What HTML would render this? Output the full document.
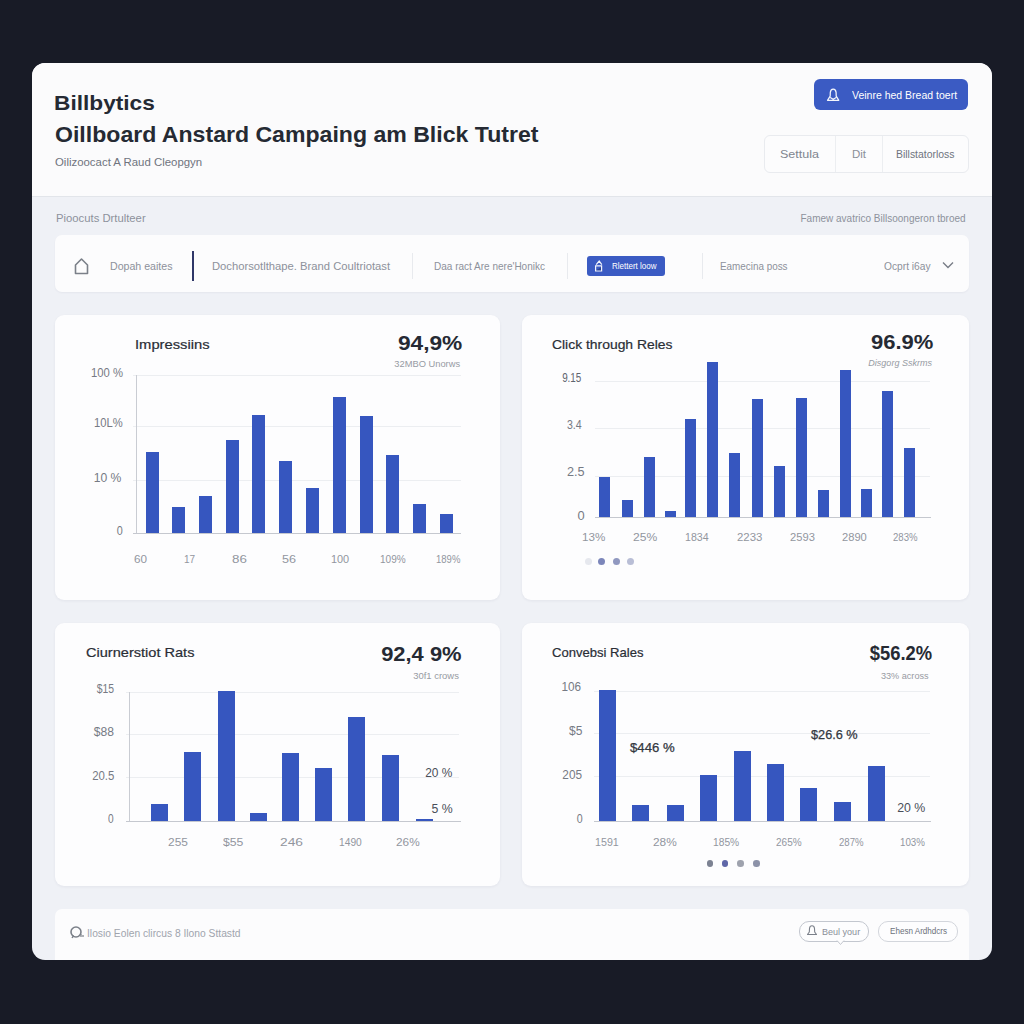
<!DOCTYPE html>
<html><head><meta charset="utf-8"><style>
html,body{margin:0;padding:0;width:1024px;height:1024px;overflow:hidden;background:#181b26;font-family:"Liberation Sans", sans-serif;}
</style></head><body>
<div style="position:absolute;left:32px;top:63px;width:960px;height:897px;background:#eff1f6;border-radius:13px;overflow:hidden"></div>
<div style="position:absolute;left:32px;top:63px;width:960px;height:133px;background:#fbfbfc;border-radius:13px 13px 0 0;border-bottom:1px solid #e2e5ea"></div>
<div style="position:absolute;left:814px;top:79px;width:154px;height:31px;background:#3b5bc3;border-radius:6px;"></div>
<svg style="position:absolute;left:826px;top:88px" width="14" height="14" viewBox="0 0 14 14"><path d="M1.5 12.3 L4.2 8.2 L4.3 4.5 Q4.6 1.2 7.2 1.2 Q9.8 1.2 10.1 4.5 L10.2 8.2 L12.8 12.3 Z M4.2 9.5 L7.2 11.3 L10.2 9.5" fill="none" stroke="#f4f6fc" stroke-width="1.25" stroke-linejoin="round"/></svg>
<div style="position:absolute;left:764px;top:135px;width:203px;height:36px;border:1px solid #e9ebef;border-radius:6px;background:#fcfcfd"></div>
<div style="position:absolute;left:835px;top:136px;width:1px;height:36px;background:#eceef1;border-radius:0px;"></div>
<div style="position:absolute;left:882px;top:136px;width:1px;height:36px;background:#eceef1;border-radius:0px;"></div>
<div style="position:absolute;left:55px;top:235px;width:914px;height:57px;background:#fcfcfd;border-radius:7px;box-shadow:0 1px 2px rgba(30,40,70,0.05)"></div>
<svg style="position:absolute;left:73px;top:257px" width="17" height="18" viewBox="0 0 17 18"><path d="M2.5 16.5 V8 L8.5 2 L14.5 8 V16.5 Z" fill="none" stroke="#7b8089" stroke-width="1.6" stroke-linejoin="round"/></svg>
<div style="position:absolute;left:192px;top:251px;width:2px;height:30px;background:#2f3768;border-radius:0px;"></div>
<div style="position:absolute;left:412px;top:253px;width:1px;height:26px;background:#e8eaee;border-radius:0px;"></div>
<div style="position:absolute;left:567px;top:253px;width:1px;height:26px;background:#e8eaee;border-radius:0px;"></div>
<div style="position:absolute;left:587px;top:256px;width:78px;height:20px;background:#3b5bc3;border-radius:3px;"></div>
<svg style="position:absolute;left:594px;top:259px" width="10" height="13" viewBox="0 0 10 13"><path d="M1.6 12 V6.8 H7.6 V12 Z M2.2 5.6 L5.2 2 L7.8 5.6" fill="none" stroke="#f2f4fb" stroke-width="1.2"/><path d="M2.4 11.2 L7 8.2 V11.2 Z" fill="#26336f" opacity="0.6"/></svg>
<div style="position:absolute;left:702px;top:253px;width:1px;height:26px;background:#e8eaee;border-radius:0px;"></div>
<svg style="position:absolute;left:941px;top:260px" width="14" height="10" viewBox="0 0 14 10"><path d="M2 2.5 L7 7.5 L12 2.5" fill="none" stroke="#777c86" stroke-width="1.35"/></svg>
<div style="position:absolute;left:55px;top:315px;width:445px;height:285px;background:#fdfdfe;border-radius:9px;box-shadow:0 1px 3px rgba(30,40,70,0.06)"></div>
<div style="position:absolute;left:522px;top:315px;width:447px;height:285px;background:#fdfdfe;border-radius:9px;box-shadow:0 1px 3px rgba(30,40,70,0.06)"></div>
<div style="position:absolute;left:55px;top:623px;width:445px;height:263px;background:#fdfdfe;border-radius:9px;box-shadow:0 1px 3px rgba(30,40,70,0.06)"></div>
<div style="position:absolute;left:522px;top:623px;width:447px;height:263px;background:#fdfdfe;border-radius:9px;box-shadow:0 1px 3px rgba(30,40,70,0.06)"></div>
<div style="position:absolute;left:133px;top:375px;width:328px;height:1px;background:#eceef1;border-radius:0px;"></div>
<div style="position:absolute;left:133px;top:426px;width:328px;height:1px;background:#eceef1;border-radius:0px;"></div>
<div style="position:absolute;left:133px;top:480px;width:328px;height:1px;background:#eceef1;border-radius:0px;"></div>
<div style="position:absolute;left:136px;top:375px;width:1px;height:159px;background:#c9ccd3;border-radius:0px;"></div>
<div style="position:absolute;left:133px;top:533px;width:328px;height:1px;background:#c5c8cf;border-radius:0px;"></div>
<div style="position:absolute;left:146px;top:452px;width:13px;height:81px;background:#3656bf;border-radius:0px;"></div>
<div style="position:absolute;left:172px;top:507px;width:13px;height:26px;background:#3656bf;border-radius:0px;"></div>
<div style="position:absolute;left:199px;top:496px;width:13px;height:37px;background:#3656bf;border-radius:0px;"></div>
<div style="position:absolute;left:226px;top:440px;width:13px;height:93px;background:#3656bf;border-radius:0px;"></div>
<div style="position:absolute;left:252px;top:415px;width:13px;height:118px;background:#3656bf;border-radius:0px;"></div>
<div style="position:absolute;left:279px;top:461px;width:13px;height:72px;background:#3656bf;border-radius:0px;"></div>
<div style="position:absolute;left:306px;top:488px;width:13px;height:45px;background:#3656bf;border-radius:0px;"></div>
<div style="position:absolute;left:333px;top:397px;width:13px;height:136px;background:#3656bf;border-radius:0px;"></div>
<div style="position:absolute;left:360px;top:416px;width:13px;height:117px;background:#3656bf;border-radius:0px;"></div>
<div style="position:absolute;left:386px;top:455px;width:13px;height:78px;background:#3656bf;border-radius:0px;"></div>
<div style="position:absolute;left:413px;top:504px;width:13px;height:29px;background:#3656bf;border-radius:0px;"></div>
<div style="position:absolute;left:440px;top:514px;width:13px;height:19px;background:#3656bf;border-radius:0px;"></div>
<div style="position:absolute;left:595px;top:381px;width:335px;height:1px;background:#eceef1;border-radius:0px;"></div>
<div style="position:absolute;left:595px;top:428px;width:335px;height:1px;background:#eceef1;border-radius:0px;"></div>
<div style="position:absolute;left:595px;top:476px;width:335px;height:1px;background:#eceef1;border-radius:0px;"></div>
<div style="position:absolute;left:595px;top:517px;width:336px;height:1px;background:#c5c8cf;border-radius:0px;"></div>
<div style="position:absolute;left:599px;top:477px;width:11px;height:40px;background:#3656bf;border-radius:0px;"></div>
<div style="position:absolute;left:622px;top:500px;width:11px;height:17px;background:#3656bf;border-radius:0px;"></div>
<div style="position:absolute;left:644px;top:457px;width:11px;height:60px;background:#3656bf;border-radius:0px;"></div>
<div style="position:absolute;left:665px;top:511px;width:11px;height:6px;background:#3656bf;border-radius:0px;"></div>
<div style="position:absolute;left:685px;top:419px;width:11px;height:98px;background:#3656bf;border-radius:0px;"></div>
<div style="position:absolute;left:707px;top:362px;width:11px;height:155px;background:#3656bf;border-radius:0px;"></div>
<div style="position:absolute;left:729px;top:453px;width:11px;height:64px;background:#3656bf;border-radius:0px;"></div>
<div style="position:absolute;left:752px;top:399px;width:11px;height:118px;background:#3656bf;border-radius:0px;"></div>
<div style="position:absolute;left:774px;top:466px;width:11px;height:51px;background:#3656bf;border-radius:0px;"></div>
<div style="position:absolute;left:796px;top:398px;width:11px;height:119px;background:#3656bf;border-radius:0px;"></div>
<div style="position:absolute;left:818px;top:490px;width:11px;height:27px;background:#3656bf;border-radius:0px;"></div>
<div style="position:absolute;left:840px;top:370px;width:11px;height:147px;background:#3656bf;border-radius:0px;"></div>
<div style="position:absolute;left:861px;top:489px;width:11px;height:28px;background:#3656bf;border-radius:0px;"></div>
<div style="position:absolute;left:882px;top:391px;width:11px;height:126px;background:#3656bf;border-radius:0px;"></div>
<div style="position:absolute;left:904px;top:448px;width:11px;height:69px;background:#3656bf;border-radius:0px;"></div>
<div style="position:absolute;left:584.7px;top:557.7px;width:7px;height:7px;border-radius:50%;background:#e6e8ee"></div>
<div style="position:absolute;left:598.2px;top:557.7px;width:7px;height:7px;border-radius:50%;background:#7c86ba"></div>
<div style="position:absolute;left:612.8px;top:557.7px;width:7px;height:7px;border-radius:50%;background:#9098c0"></div>
<div style="position:absolute;left:627.4px;top:557.7px;width:7px;height:7px;border-radius:50%;background:#b9bed6"></div>
<div style="position:absolute;left:126px;top:692px;width:333px;height:1px;background:#eceef1;border-radius:0px;"></div>
<div style="position:absolute;left:126px;top:734px;width:333px;height:1px;background:#eceef1;border-radius:0px;"></div>
<div style="position:absolute;left:126px;top:777px;width:333px;height:1px;background:#eceef1;border-radius:0px;"></div>
<div style="position:absolute;left:129px;top:692px;width:1px;height:130px;background:#c9ccd3;border-radius:0px;"></div>
<div style="position:absolute;left:126px;top:821px;width:335px;height:1px;background:#c5c8cf;border-radius:0px;"></div>
<div style="position:absolute;left:151px;top:804px;width:17px;height:17px;background:#3656bf;border-radius:0px;"></div>
<div style="position:absolute;left:184px;top:752px;width:17px;height:69px;background:#3656bf;border-radius:0px;"></div>
<div style="position:absolute;left:218px;top:691px;width:17px;height:130px;background:#3656bf;border-radius:0px;"></div>
<div style="position:absolute;left:250px;top:813px;width:17px;height:8px;background:#3656bf;border-radius:0px;"></div>
<div style="position:absolute;left:282px;top:753px;width:17px;height:68px;background:#3656bf;border-radius:0px;"></div>
<div style="position:absolute;left:315px;top:768px;width:17px;height:53px;background:#3656bf;border-radius:0px;"></div>
<div style="position:absolute;left:348px;top:717px;width:17px;height:104px;background:#3656bf;border-radius:0px;"></div>
<div style="position:absolute;left:382px;top:755px;width:17px;height:66px;background:#3656bf;border-radius:0px;"></div>
<div style="position:absolute;left:416px;top:819px;width:17px;height:2px;background:#3656bf;border-radius:0px;"></div>
<div style="position:absolute;left:594px;top:691px;width:336px;height:1px;background:#eceef1;border-radius:0px;"></div>
<div style="position:absolute;left:594px;top:733px;width:336px;height:1px;background:#eceef1;border-radius:0px;"></div>
<div style="position:absolute;left:594px;top:776px;width:336px;height:1px;background:#eceef1;border-radius:0px;"></div>
<div style="position:absolute;left:594px;top:821px;width:337px;height:1px;background:#c5c8cf;border-radius:0px;"></div>
<div style="position:absolute;left:599px;top:690px;width:17px;height:131px;background:#3656bf;border-radius:0px;"></div>
<div style="position:absolute;left:632px;top:805px;width:17px;height:16px;background:#3656bf;border-radius:0px;"></div>
<div style="position:absolute;left:667px;top:805px;width:17px;height:16px;background:#3656bf;border-radius:0px;"></div>
<div style="position:absolute;left:700px;top:775px;width:17px;height:46px;background:#3656bf;border-radius:0px;"></div>
<div style="position:absolute;left:734px;top:751px;width:17px;height:70px;background:#3656bf;border-radius:0px;"></div>
<div style="position:absolute;left:767px;top:764px;width:17px;height:57px;background:#3656bf;border-radius:0px;"></div>
<div style="position:absolute;left:800px;top:788px;width:17px;height:33px;background:#3656bf;border-radius:0px;"></div>
<div style="position:absolute;left:834px;top:802px;width:17px;height:19px;background:#3656bf;border-radius:0px;"></div>
<div style="position:absolute;left:868px;top:766px;width:17px;height:55px;background:#3656bf;border-radius:0px;"></div>
<div style="position:absolute;left:706.9000000000001px;top:860.3000000000001px;width:6.6px;height:6.6px;border-radius:50%;background:#7c8292"></div>
<div style="position:absolute;left:721.9000000000001px;top:860.3000000000001px;width:6.6px;height:6.6px;border-radius:50%;background:#5f67a8"></div>
<div style="position:absolute;left:737.1px;top:860.3000000000001px;width:6.6px;height:6.6px;border-radius:50%;background:#9ea2ad"></div>
<div style="position:absolute;left:752.95px;top:860.3000000000001px;width:6.6px;height:6.6px;border-radius:50%;background:#8c92a8"></div>
<div style="position:absolute;left:55px;top:909px;width:914px;height:51px;background:#fcfcfd;border-radius:7px 7px 0 0"></div>
<svg style="position:absolute;left:69px;top:925px" width="17" height="16" viewBox="0 0 17 16"><circle cx="7" cy="7" r="5" fill="none" stroke="#7b8089" stroke-width="1.6"/><path d="M3 13 Q4 11 5 11" fill="none" stroke="#7b8089" stroke-width="1.3"/><path d="M12 9 V12 M14 10 V12" stroke="#7b8089" stroke-width="1.2"/></svg>
<div style="position:absolute;left:799px;top:921px;width:68px;height:19px;border:1px solid #c3c7cf;border-radius:10px;background:#fdfdfe"></div>
<svg style="position:absolute;left:806px;top:924px" width="12" height="13" viewBox="0 0 12 13"><path d="M1.5 10.5 L3.3 8 L3.5 4.5 Q3.8 1.8 6 1.8 Q8.2 1.8 8.5 4.5 L8.7 8 L10.5 10.5 Z" fill="none" stroke="#7b808a" stroke-width="1.1" stroke-linejoin="round"/></svg>
<svg style="position:absolute;left:836px;top:940px" width="9" height="6" viewBox="0 0 9 6"><path d="M1 0.5 L4.5 4.5 L8 0.5" fill="#fdfdfe" stroke="#c3c6ce" stroke-width="1"/></svg>
<div style="position:absolute;left:878px;top:921px;width:78px;height:19px;border:1px solid #d3d6dc;border-radius:10px;background:#fdfdfe"></div>
<span style="position:absolute;left:53.92px;transform-origin:0 50%;top:92.22px;font-size:21px;line-height:21px;font-weight:700;color:#252a33;white-space:nowrap;transform:scaleX(1.0798);">Billbytics</span>
<span style="position:absolute;left:55.00px;transform-origin:0 50%;top:124.38px;font-size:22px;line-height:22px;font-weight:700;color:#252a33;white-space:nowrap;transform:scaleX(1.0490);">Oillboard Anstard Campaing am Blick Tutret</span>
<span style="position:absolute;left:55.00px;transform-origin:0 50%;top:157.27px;font-size:11.5px;line-height:11.5px;font-weight:400;color:#6f747e;white-space:nowrap;transform:scaleX(0.9921);">Oilizoocact A Raud Cleopgyn</span>
<span style="position:absolute;left:852.00px;transform-origin:0 50%;top:89.69px;font-size:11px;line-height:11px;font-weight:400;color:#ffffff;white-space:nowrap;transform:scaleX(0.9544);">Veinre hed Bread toert</span>
<span style="position:absolute;left:780.00px;transform-origin:0 50%;top:148.69px;font-size:11px;line-height:11px;font-weight:400;color:#80858f;white-space:nowrap;transform:scaleX(1.1387);">Settula</span>
<span style="position:absolute;left:852.00px;transform-origin:0 50%;top:148.69px;font-size:11px;line-height:11px;font-weight:400;color:#8a8f98;white-space:nowrap;transform:scaleX(1.0457);">Dit</span>
<span style="position:absolute;left:896.00px;transform-origin:0 50%;top:148.69px;font-size:11px;line-height:11px;font-weight:400;color:#6f747e;white-space:nowrap;transform:scaleX(0.9479);">Billstatorloss</span>
<span style="position:absolute;left:56.00px;transform-origin:0 50%;top:212.69px;font-size:11px;line-height:11px;font-weight:400;color:#8d929c;white-space:nowrap;transform:scaleX(1.0255);">Pioocuts Drtulteer</span>
<span style="position:absolute;right:58.89px;transform-origin:100% 50%;top:212.69px;font-size:11px;line-height:11px;font-weight:400;color:#8d929c;white-space:nowrap;transform:scaleX(0.9092);">Famew avatrico Billsoongeron tbroed</span>
<span style="position:absolute;left:110.00px;transform-origin:0 50%;top:260.69px;font-size:11px;line-height:11px;font-weight:400;color:#8d919b;white-space:nowrap;transform:scaleX(0.9644);">Dopah eaites</span>
<span style="position:absolute;left:212.00px;transform-origin:0 50%;top:260.69px;font-size:11px;line-height:11px;font-weight:400;color:#8d919b;white-space:nowrap;transform:scaleX(1.0218);">Dochorsotlthape. Brand Coultriotast</span>
<span style="position:absolute;left:434.00px;transform-origin:0 50%;top:260.69px;font-size:11px;line-height:11px;font-weight:400;color:#8d919b;white-space:nowrap;transform:scaleX(0.9103);">Daa ract Are nere'Honikc</span>
<span style="position:absolute;left:612.00px;transform-origin:0 50%;top:261.88px;font-size:9px;line-height:9px;font-weight:400;color:#ffffff;white-space:nowrap;transform:scaleX(0.8908);">Rlettert loow</span>
<span style="position:absolute;left:720.00px;transform-origin:0 50%;top:260.69px;font-size:11px;line-height:11px;font-weight:400;color:#8d919b;white-space:nowrap;transform:scaleX(0.8982);">Eamecina poss</span>
<span style="position:absolute;left:884.00px;transform-origin:0 50%;top:260.69px;font-size:11px;line-height:11px;font-weight:400;color:#8d919b;white-space:nowrap;transform:scaleX(0.9283);">Ocprt i6ay</span>
<span style="position:absolute;left:134.87px;transform-origin:0 50%;top:338.00px;font-size:13px;line-height:13px;font-weight:400;color:#2a2e36;white-space:nowrap;transform:scaleX(1.1343);-webkit-text-stroke:0.2px #2a2e36">Impressiins</span>
<span style="position:absolute;right:561.61px;transform-origin:100% 50%;top:334.49px;font-size:19.5px;line-height:19.5px;font-weight:700;color:#262a33;white-space:nowrap;transform:scaleX(1.1646);">94,9%</span>
<span style="position:absolute;right:564.25px;transform-origin:100% 50%;top:358.96px;font-size:9.5px;line-height:9.5px;font-weight:400;color:#979ba3;white-space:nowrap;transform:scaleX(0.9807);">32MBO Unorws</span>
<span style="position:absolute;right:901.31px;transform-origin:100% 50%;top:366.84px;font-size:12px;line-height:12px;font-weight:400;color:#767a84;white-space:nowrap;transform:scaleX(0.9402);">100 %</span>
<span style="position:absolute;right:901.31px;transform-origin:100% 50%;top:417.34px;font-size:12px;line-height:12px;font-weight:400;color:#767a84;white-space:nowrap;transform:scaleX(0.9348);">10L%</span>
<span style="position:absolute;right:902.33px;transform-origin:100% 50%;top:471.84px;font-size:12px;line-height:12px;font-weight:400;color:#767a84;white-space:nowrap;transform:scaleX(1.0115);">10 %</span>
<span style="position:absolute;right:901.29px;transform-origin:100% 50%;top:524.84px;font-size:12px;line-height:12px;font-weight:400;color:#767a84;white-space:nowrap;transform:scaleX(0.9000);">0</span>
<span style="position:absolute;left:134.00px;transform-origin:0 50%;top:553.77px;font-size:11.5px;line-height:11.5px;font-weight:400;color:#92969e;white-space:nowrap;transform:scaleX(1.0165);">60</span>
<span style="position:absolute;left:183.70px;transform-origin:0 50%;top:553.77px;font-size:11.5px;line-height:11.5px;font-weight:400;color:#92969e;white-space:nowrap;transform:scaleX(0.8713);">17</span>
<span style="position:absolute;left:231.60px;transform-origin:0 50%;top:553.77px;font-size:11.5px;line-height:11.5px;font-weight:400;color:#92969e;white-space:nowrap;transform:scaleX(1.1617);">86</span>
<span style="position:absolute;left:282.40px;transform-origin:0 50%;top:553.77px;font-size:11.5px;line-height:11.5px;font-weight:400;color:#92969e;white-space:nowrap;transform:scaleX(1.0972);">56</span>
<span style="position:absolute;left:331.00px;transform-origin:0 50%;top:553.77px;font-size:11.5px;line-height:11.5px;font-weight:400;color:#92969e;white-space:nowrap;transform:scaleX(0.9472);">100</span>
<span style="position:absolute;left:380.00px;transform-origin:0 50%;top:553.77px;font-size:11.5px;line-height:11.5px;font-weight:400;color:#92969e;white-space:nowrap;transform:scaleX(0.8737);">109%</span>
<span style="position:absolute;left:435.80px;transform-origin:0 50%;top:553.77px;font-size:11.5px;line-height:11.5px;font-weight:400;color:#92969e;white-space:nowrap;transform:scaleX(0.8291);">189%</span>
<span style="position:absolute;left:552.00px;transform-origin:0 50%;top:337.50px;font-size:13px;line-height:13px;font-weight:400;color:#2a2e36;white-space:nowrap;transform:scaleX(1.0688);-webkit-text-stroke:0.2px #2a2e36">Click through Reles</span>
<span style="position:absolute;right:90.62px;transform-origin:100% 50%;top:333.49px;font-size:19.5px;line-height:19.5px;font-weight:700;color:#262a33;white-space:nowrap;transform:scaleX(1.1282);">96.9%</span>
<span style="position:absolute;right:92.24px;transform-origin:100% 50%;top:357.96px;font-size:9.5px;line-height:9.5px;font-weight:400;color:#979ba3;white-space:nowrap;transform:scaleX(0.9511);font-style:italic">Disgorg Sskrms</span>
<span style="position:absolute;right:442.27px;transform-origin:100% 50%;top:371.84px;font-size:12px;line-height:12px;font-weight:400;color:#5f646e;white-space:nowrap;transform:scaleX(0.8234);">9.15</span>
<span style="position:absolute;right:442.29px;transform-origin:100% 50%;top:418.84px;font-size:12px;line-height:12px;font-weight:400;color:#767a84;white-space:nowrap;transform:scaleX(0.8819);">3.4</span>
<span style="position:absolute;right:439.35px;transform-origin:100% 50%;top:466.34px;font-size:12px;line-height:12px;font-weight:400;color:#767a84;white-space:nowrap;transform:scaleX(1.0583);">2.5</span>
<span style="position:absolute;right:438.85px;transform-origin:100% 50%;top:509.84px;font-size:12px;line-height:12px;font-weight:400;color:#767a84;white-space:nowrap;transform:scaleX(1.0714);">0</span>
<span style="position:absolute;left:581.50px;transform-origin:0 50%;top:532.27px;font-size:11.5px;line-height:11.5px;font-weight:400;color:#92969e;white-space:nowrap;transform:scaleX(1.0135);">13%</span>
<span style="position:absolute;left:632.70px;transform-origin:0 50%;top:532.27px;font-size:11.5px;line-height:11.5px;font-weight:400;color:#92969e;white-space:nowrap;transform:scaleX(1.0530);">25%</span>
<span style="position:absolute;left:684.80px;transform-origin:0 50%;top:532.27px;font-size:11.5px;line-height:11.5px;font-weight:400;color:#92969e;white-space:nowrap;transform:scaleX(0.9241);">1834</span>
<span style="position:absolute;left:737.00px;transform-origin:0 50%;top:532.27px;font-size:11.5px;line-height:11.5px;font-weight:400;color:#92969e;white-space:nowrap;transform:scaleX(0.9926);">2233</span>
<span style="position:absolute;left:790.00px;transform-origin:0 50%;top:532.27px;font-size:11.5px;line-height:11.5px;font-weight:400;color:#92969e;white-space:nowrap;transform:scaleX(0.9727);">2593</span>
<span style="position:absolute;left:842.00px;transform-origin:0 50%;top:532.27px;font-size:11.5px;line-height:11.5px;font-weight:400;color:#92969e;white-space:nowrap;transform:scaleX(0.9687);">2890</span>
<span style="position:absolute;left:893.00px;transform-origin:0 50%;top:532.27px;font-size:11.5px;line-height:11.5px;font-weight:400;color:#92969e;white-space:nowrap;transform:scaleX(0.8360);">283%</span>
<span style="position:absolute;left:86.00px;transform-origin:0 50%;top:646.00px;font-size:13px;line-height:13px;font-weight:400;color:#2a2e36;white-space:nowrap;transform:scaleX(1.1202);-webkit-text-stroke:0.2px #2a2e36">Ciurnerstiot Rats</span>
<span style="position:absolute;right:562.62px;transform-origin:100% 50%;top:644.99px;font-size:19.5px;line-height:19.5px;font-weight:700;color:#262a33;white-space:nowrap;transform:scaleX(1.1234);">92,4 9%</span>
<span style="position:absolute;right:565.25px;transform-origin:100% 50%;top:670.96px;font-size:9.5px;line-height:9.5px;font-weight:400;color:#979ba3;white-space:nowrap;transform:scaleX(0.9960);">30f1 crows</span>
<span style="position:absolute;right:910.08px;transform-origin:100% 50%;top:682.64px;font-size:12px;line-height:12px;font-weight:400;color:#767a84;white-space:nowrap;transform:scaleX(0.8650);">$15</span>
<span style="position:absolute;right:910.13px;transform-origin:100% 50%;top:725.64px;font-size:12px;line-height:12px;font-weight:400;color:#767a84;white-space:nowrap;transform:scaleX(1.0075);">$88</span>
<span style="position:absolute;right:910.11px;transform-origin:100% 50%;top:769.54px;font-size:12px;line-height:12px;font-weight:400;color:#767a84;white-space:nowrap;transform:scaleX(0.9501);">20.5</span>
<span style="position:absolute;right:910.07px;transform-origin:100% 50%;top:813.44px;font-size:12px;line-height:12px;font-weight:400;color:#767a84;white-space:nowrap;transform:scaleX(0.8429);">0</span>
<span style="position:absolute;left:167.90px;transform-origin:0 50%;top:836.77px;font-size:11.5px;line-height:11.5px;font-weight:400;color:#92969e;white-space:nowrap;transform:scaleX(1.0377);">255</span>
<span style="position:absolute;left:223.00px;transform-origin:0 50%;top:836.77px;font-size:11.5px;line-height:11.5px;font-weight:400;color:#92969e;white-space:nowrap;transform:scaleX(1.0643);">$55</span>
<span style="position:absolute;left:280.00px;transform-origin:0 50%;top:836.77px;font-size:11.5px;line-height:11.5px;font-weight:400;color:#92969e;white-space:nowrap;transform:scaleX(1.1973);">246</span>
<span style="position:absolute;left:338.60px;transform-origin:0 50%;top:836.77px;font-size:11.5px;line-height:11.5px;font-weight:400;color:#92969e;white-space:nowrap;transform:scaleX(0.8893);">1490</span>
<span style="position:absolute;left:396.20px;transform-origin:0 50%;top:836.77px;font-size:11.5px;line-height:11.5px;font-weight:400;color:#92969e;white-space:nowrap;transform:scaleX(1.0267);">26%</span>
<span style="position:absolute;right:571.33px;transform-origin:100% 50%;top:766.84px;font-size:12px;line-height:12px;font-weight:400;color:#4a4f59;white-space:nowrap;transform:scaleX(0.9934);">20 %</span>
<span style="position:absolute;right:571.34px;transform-origin:100% 50%;top:802.84px;font-size:12px;line-height:12px;font-weight:400;color:#4a4f59;white-space:nowrap;transform:scaleX(1.0234);">5 %</span>
<span style="position:absolute;left:552.00px;transform-origin:0 50%;top:646.00px;font-size:13px;line-height:13px;font-weight:400;color:#2a2e36;white-space:nowrap;transform:scaleX(1.0050);-webkit-text-stroke:0.2px #2a2e36">Convebsi Rales</span>
<span style="position:absolute;right:91.68px;transform-origin:100% 50%;top:644.49px;font-size:19.5px;line-height:19.5px;font-weight:700;color:#262a33;white-space:nowrap;transform:scaleX(0.9423);">$56.2%</span>
<span style="position:absolute;right:95.24px;transform-origin:100% 50%;top:670.96px;font-size:9.5px;line-height:9.5px;font-weight:400;color:#979ba3;white-space:nowrap;transform:scaleX(0.9622);">33% across</span>
<span style="position:absolute;right:442.92px;transform-origin:100% 50%;top:681.24px;font-size:12px;line-height:12px;font-weight:400;color:#767a84;white-space:nowrap;transform:scaleX(0.9780);">106</span>
<span style="position:absolute;right:442.13px;transform-origin:100% 50%;top:725.04px;font-size:12px;line-height:12px;font-weight:400;color:#767a84;white-space:nowrap;transform:scaleX(1.0019);">$5</span>
<span style="position:absolute;right:442.32px;transform-origin:100% 50%;top:768.84px;font-size:12px;line-height:12px;font-weight:400;color:#767a84;white-space:nowrap;transform:scaleX(0.9829);">205</span>
<span style="position:absolute;right:441.09px;transform-origin:100% 50%;top:813.44px;font-size:12px;line-height:12px;font-weight:400;color:#767a84;white-space:nowrap;transform:scaleX(0.8857);">0</span>
<span style="position:absolute;left:595.30px;transform-origin:0 50%;top:836.77px;font-size:11.5px;line-height:11.5px;font-weight:400;color:#92969e;white-space:nowrap;transform:scaleX(0.9310);">1591</span>
<span style="position:absolute;left:652.50px;transform-origin:0 50%;top:836.77px;font-size:11.5px;line-height:11.5px;font-weight:400;color:#92969e;white-space:nowrap;transform:scaleX(1.0311);">28%</span>
<span style="position:absolute;left:713.00px;transform-origin:0 50%;top:836.77px;font-size:11.5px;line-height:11.5px;font-weight:400;color:#92969e;white-space:nowrap;transform:scaleX(0.8908);">185%</span>
<span style="position:absolute;left:776.40px;transform-origin:0 50%;top:836.77px;font-size:11.5px;line-height:11.5px;font-weight:400;color:#92969e;white-space:nowrap;transform:scaleX(0.8702);">265%</span>
<span style="position:absolute;left:838.90px;transform-origin:0 50%;top:836.77px;font-size:11.5px;line-height:11.5px;font-weight:400;color:#92969e;white-space:nowrap;transform:scaleX(0.8360);">287%</span>
<span style="position:absolute;left:900.00px;transform-origin:0 50%;top:836.77px;font-size:11.5px;line-height:11.5px;font-weight:400;color:#92969e;white-space:nowrap;transform:scaleX(0.8497);">103%</span>
<span style="position:absolute;left:630.00px;transform-origin:0 50%;top:742.34px;font-size:12px;line-height:12px;font-weight:400;color:#33373f;white-space:nowrap;transform:scaleX(1.0968);-webkit-text-stroke:0.25px #33373f">$446 %</span>
<span style="position:absolute;left:811.00px;transform-origin:0 50%;top:728.84px;font-size:12px;line-height:12px;font-weight:400;color:#33373f;white-space:nowrap;transform:scaleX(1.0594);-webkit-text-stroke:0.25px #33373f">$26.6 %</span>
<span style="position:absolute;right:98.94px;transform-origin:100% 50%;top:801.84px;font-size:12px;line-height:12px;font-weight:400;color:#4a4f59;white-space:nowrap;transform:scaleX(1.0296);">20 %</span>
<span style="position:absolute;left:87.00px;transform-origin:0 50%;top:928.53px;font-size:10px;line-height:10px;font-weight:400;color:#a0a4ad;white-space:nowrap;transform:scaleX(1.0271);">Ilosio Eolen clircus 8 Ilono Sttastd</span>
<span style="position:absolute;left:822.00px;transform-origin:0 50%;top:926.96px;font-size:9.5px;line-height:9.5px;font-weight:400;color:#8a8f99;white-space:nowrap;transform:scaleX(0.9507);">Beul your</span>
<span style="position:absolute;left:890.00px;transform-origin:0 50%;top:927.38px;font-size:9px;line-height:9px;font-weight:400;color:#6c717b;white-space:nowrap;transform:scaleX(0.8988);">Ehesn Ardhdcrs</span>
</body></html>
